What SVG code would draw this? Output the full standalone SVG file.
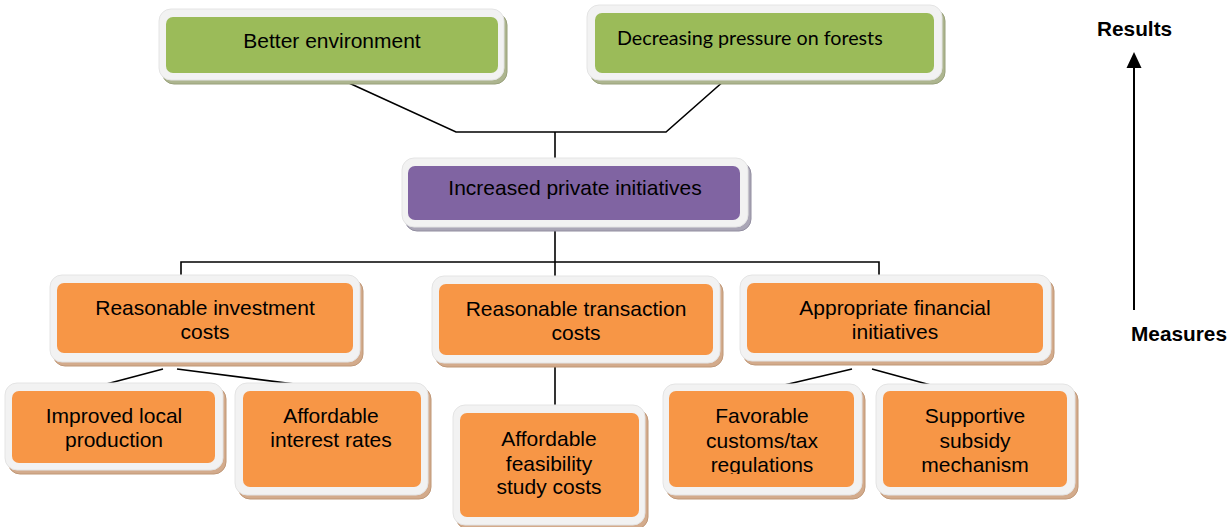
<svg xmlns="http://www.w3.org/2000/svg" width="1230" height="527" viewBox="0 0 1230 527">
  <style>
    .frame { fill: #f2f2f2; stroke: #e4e4e4; stroke-width: 1; }
    .sh-green { fill: #adb58f; stroke: #98a07a; stroke-width: 1; }
    .sh-purple { fill: #aaa6b6; stroke: #928ea0; stroke-width: 1; }
    .sh-orange { fill: #d3ab8c; stroke: #bf9777; stroke-width: 1; }
    .green { fill: #9bbb59; }
    .purple { fill: #8064a2; }
    .orange { fill: #f79646; }
    .lbl { font-family: "Liberation Sans", Arial, sans-serif; font-size: 21px; fill: #000; text-anchor: middle; }
    .lbl2 { font-family: Lato, "Open Sans", sans-serif; font-size: 19.7px; fill: #000; }
    .axis { font-family: "Liberation Sans", Arial, sans-serif; font-size: 20.8px; font-weight: bold; fill: #000; }
    .conn line, .conn polyline { stroke: #000; stroke-width: 1.6; fill: none; }
  </style>
  <defs>
    <clipPath id="clip-customs">
      <rect x="660" y="395" width="210" height="79"/>
    </clipPath>
  </defs>

  <rect width="1230" height="527" fill="#ffffff"/>

  <!-- connectors -->
  <g id="connectors" class="conn">
    <polyline points="338,78 456,132 666,132 725,80"/>
    <line x1="555" y1="132" x2="555" y2="158"/>
    <line x1="555" y1="227" x2="555" y2="276"/>
    <polyline points="181,283 181,262 879,262 879,275"/>
    <line x1="555" y1="363" x2="555" y2="405"/>
    <line x1="163" y1="369" x2="95" y2="387"/>
    <line x1="177" y1="369" x2="318" y2="387"/>
    <line x1="852" y1="369" x2="780" y2="386"/>
    <line x1="872" y1="369" x2="938" y2="387"/>
  </g>

  <!-- results / measures axis -->
  <g id="axis">
    <line x1="1134" y1="310" x2="1134" y2="68" stroke="#000" stroke-width="2"/>
    <path d="M1134,52 L1141.5,68 L1126.5,68 Z" fill="#000"/>
    <text class="axis" x="1097" y="36">Results</text>
    <text class="axis" x="1131" y="341">Measures</text>
  </g>

  <g id="node-environment">
    <rect class="sh-green" x="162" y="13" width="345" height="71" rx="12"/>
    <rect class="frame" x="159" y="9" width="345" height="71" rx="12"/>
    <rect class="green" x="166" y="17" width="332" height="56" rx="7"/>
    <text class="lbl" x="332" y="48">Better environment</text>
  </g>

  <g id="node-forests">
    <rect class="sh-green" x="590" y="9" width="355" height="75" rx="12"/>
    <rect class="frame" x="587" y="5" width="355" height="75" rx="12"/>
    <rect class="green" x="595" y="13" width="339" height="60" rx="7"/>
    <text class="lbl2" x="617" y="45">Decreasing pressure on forests</text>
  </g>

  <g id="node-private">
    <rect class="sh-purple" x="405" y="162" width="346" height="69" rx="12"/>
    <rect class="frame" x="402" y="158" width="346" height="69" rx="12"/>
    <rect class="purple" x="408" y="166" width="332" height="54" rx="7"/>
    <text class="lbl" x="575" y="195">Increased private initiatives</text>
  </g>

  <g id="node-investment">
    <rect class="sh-orange" x="53" y="279" width="310" height="87" rx="12"/>
    <rect class="frame" x="50" y="275" width="310" height="87" rx="12"/>
    <rect class="orange" x="57" y="283" width="296" height="70" rx="7"/>
    <text class="lbl" x="205" y="315">Reasonable investment</text>
    <text class="lbl" x="205" y="339">costs</text>
  </g>

  <g id="node-transaction">
    <rect class="sh-orange" x="435" y="280" width="288" height="87" rx="12"/>
    <rect class="frame" x="432" y="276" width="288" height="87" rx="12"/>
    <rect class="orange" x="439" y="284" width="274" height="71" rx="7"/>
    <text class="lbl" x="576" y="316">Reasonable transaction</text>
    <text class="lbl" x="576" y="340">costs</text>
  </g>

  <g id="node-financial">
    <rect class="sh-orange" x="743" y="279" width="311" height="86" rx="12"/>
    <rect class="frame" x="740" y="275" width="311" height="86" rx="12"/>
    <rect class="orange" x="747" y="283" width="296" height="70" rx="7"/>
    <text class="lbl" x="895" y="315">Appropriate financial</text>
    <text class="lbl" x="895" y="339">initiatives</text>
  </g>

  <g id="node-local">
    <rect class="sh-orange" x="8" y="387" width="218" height="87" rx="12"/>
    <rect class="frame" x="5" y="383" width="218" height="87" rx="12"/>
    <rect class="orange" x="12" y="391" width="203" height="72" rx="7"/>
    <text class="lbl" x="114" y="423">Improved local</text>
    <text class="lbl" x="114" y="447">production</text>
  </g>

  <g id="node-interest">
    <rect class="sh-orange" x="238" y="387" width="193" height="112" rx="12"/>
    <rect class="frame" x="235" y="383" width="193" height="112" rx="12"/>
    <rect class="orange" x="243" y="391" width="178" height="96" rx="7"/>
    <text class="lbl" x="331" y="423">Affordable</text>
    <text class="lbl" x="331" y="447">interest rates</text>
  </g>

  <g id="node-feasibility">
    <rect class="sh-orange" x="456" y="409" width="192" height="120" rx="12"/>
    <rect class="frame" x="453" y="405" width="192" height="120" rx="12"/>
    <rect class="orange" x="460" y="413" width="179" height="104" rx="7"/>
    <text class="lbl" x="549" y="446">Affordable</text>
    <text class="lbl" x="549" y="471">feasibility</text>
    <text class="lbl" x="549" y="494">study costs</text>
  </g>

  <g id="node-customs">
    <rect class="sh-orange" x="666" y="388" width="199" height="111" rx="12"/>
    <rect class="frame" x="663" y="384" width="199" height="111" rx="12"/>
    <rect class="orange" x="669" y="391" width="185" height="96" rx="7"/>
    <g clip-path="url(#clip-customs)">
      <text class="lbl" x="762" y="423">Favorable</text>
      <text class="lbl" x="762" y="448">customs/tax</text>
      <text class="lbl" x="762" y="472">regulations</text>
    </g>
  </g>

  <g id="node-subsidy">
    <rect class="sh-orange" x="879" y="388" width="199" height="111" rx="12"/>
    <rect class="frame" x="876" y="384" width="199" height="111" rx="12"/>
    <rect class="orange" x="883" y="391" width="184" height="96" rx="7"/>
    <text class="lbl" x="975" y="423">Supportive</text>
    <text class="lbl" x="975" y="448">subsidy</text>
    <text class="lbl" x="975" y="472">mechanism</text>
  </g>
</svg>
